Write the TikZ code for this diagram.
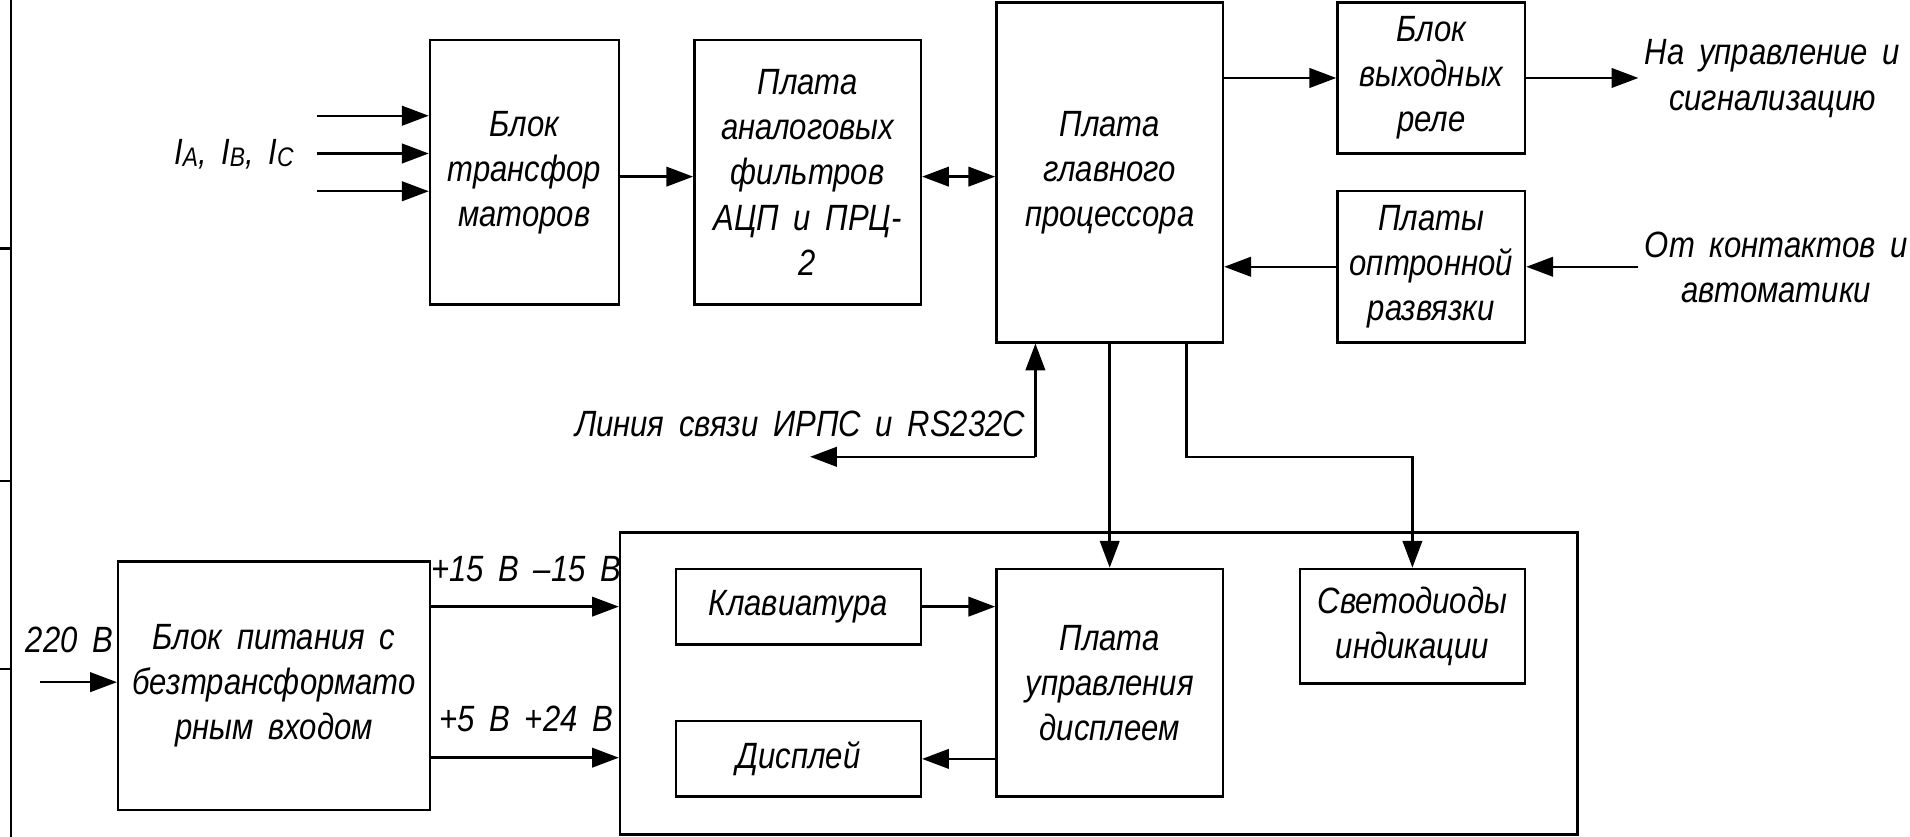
\documentclass[tikz,border=0pt]{standalone}
\usepackage{fontspec}
\setmainfont{Liberation Sans}[FakeStretch=0.85,WordSpace=1.7]
\usetikzlibrary{arrows.meta,calc}
\begin{document}
\begin{tikzpicture}[x=0.5pt,y=-0.5pt,
  txt/.style={font=\fontsize{15}{18.5}\selectfont\itshape,align=center,inner sep=0pt},
  blk/.style={txt,draw,line width=1pt},
  arr/.style={line width=1pt,-{Triangle[length=11pt,width=8pt]}},
  arrb/.style={line width=1pt,{Triangle[length=11pt,width=8pt]}-{Triangle[length=11pt,width=8pt]}},
  ln/.style={line width=1pt}]
\useasboundingbox (0,0) rectangle (1568,687);
% left frame line
\draw[ln] (9,0) -- (9,687);
\draw[ln] (0,204) -- (9,204);
\draw[ln] (0,395) -- (9,395);
\draw[ln] (0,549) -- (9,549);
% blocks
\node[blk,minimum width=77.5pt,minimum height=108.5pt] (trans) at (430.5,141.5) {Блок\\трансфор\\маторов};
\node[blk,minimum width=93pt,minimum height=108.5pt] (adc) at (663,141.5) {Плата\\аналоговых\\фильтров\\АЦП и ПРЦ-\\2};
\node[blk,minimum width=93pt,minimum height=139.5pt] (cpu) at (911,141.5) {Плата\\главного\\процессора};
\node[blk,minimum width=77pt,minimum height=62pt] (relay) at (1175,64) {Блок\\выходных\\реле};
\node[blk,minimum width=77pt,minimum height=62pt] (opto) at (1175,219) {Платы\\оптронной\\развязки};
\node[blk,minimum width=393pt,minimum height=124pt] (outer) at (902,561) {};
\node[blk,minimum width=100.5pt,minimum height=31pt] (kbd) at (655.5,498) {Клавиатура};
\node[blk,minimum width=100.5pt,minimum height=31pt] (disp) at (655.5,623) {Дисплей};
\node[blk,minimum width=93pt,minimum height=93.5pt] (ctrl) at (911,560.5) {Плата\\управления\\дисплеем};
\node[blk,minimum width=92.5pt,minimum height=47pt] (led) at (1159.5,514) {Светодиоды\\индикации};
\node[blk,minimum width=128pt,minimum height=102pt] (pwr) at (225,563) {Блок питания с\\безтрансформато\\рным входом};
% free labels
\node[txt] (ilbl) at (192,127) {I\raisebox{-0.1ex}{\fontsize{11}{11}\selectfont A}, I\raisebox{-0.1ex}{\fontsize{11}{11}\selectfont B}, I\raisebox{-0.1ex}{\fontsize{11}{11}\selectfont C}};
\node[txt,anchor=west] (outlbl) at (1350,64.5) {На управление и\\сигнализацию};
\node[txt,anchor=west] (inlbl) at (1350,219.5) {От контактов и\\автоматики};
\node[txt,anchor=east] (linelbl) at (842,348) {Линия связи ИРПС и RS232C};
\node[txt] (v220) at (57,525) {220 В};
\node[txt] (v15) at (432,467) {+15 В –15 В};
\node[txt] (v5) at (432,590) {+5 В +24 В};
% free ends
\coordinate (ia) at (260,95);
\coordinate (ib) at (260,126);
\coordinate (ic) at (260,157);
\coordinate (outend) at (1345,64);
\coordinate (instart) at (1345,219);
\coordinate (lnk) at (850,375);
\coordinate (lnkend) at (665,375);
\coordinate (bend) at (974,375);
\coordinate (mains) at (33,560);
% connectors
\draw[arr] (ia) -- (ia -| trans.west);
\draw[arr] (ib) -- (ib -| trans.west);
\draw[arr] (ic) -- (ic -| trans.west);
\draw[arr] (trans.east |- 0,145) -- (adc.west |- 0,145);
\draw[arrb] (adc.east |- 0,145) -- (cpu.west |- 0,145);
\draw[arr] (cpu.east |- relay) -- (relay.west);
\draw[arr] (relay.east) -- (outend);
\draw[arr] (instart) -- (opto.east);
\draw[arr] (opto.west) -- (opto.west -| cpu.east);
\draw[arr] (lnk) -- (lnk |- cpu.south);
\draw[arr] (lnk) -- (lnkend);
\draw[arr] (cpu.south) -- (ctrl.north);
\draw[arr] (bend |- cpu.south) -- (bend) -| (led.north);
\draw[arr] (kbd.east) -- (kbd.east -| ctrl.west);
\draw[arr] (disp.east -| ctrl.west) -- (disp.east);
\draw[arr] (mains) -- (mains -| pwr.west);
\draw[arr] (pwr.east |- kbd) -- (outer.west |- kbd);
\draw[arr] (pwr.east |- 0,622) -- (outer.west |- 0,622);
\end{tikzpicture}
\end{document}
